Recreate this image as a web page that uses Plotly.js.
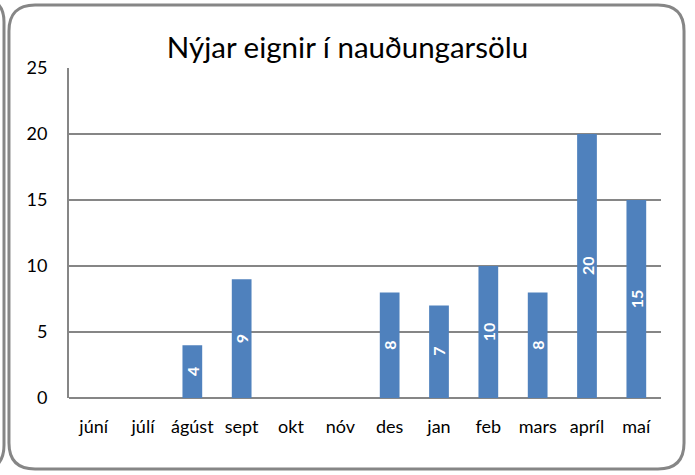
<!DOCTYPE html>
<html>
<head>
<meta charset="utf-8">
<script src="https://cdn.plot.ly/plotly-3.0.1.min.js"></script>
<style>
html,body{margin:0;padding:0;background:#fff;}
#chart{width:695px;height:475px;}
</style>
</head>
<body>
<div id="chart"></div>
<script>
const months = ['júní','júlí','ágúst','sept','okt','nóv','des','jan','feb','mars','apríl','maí'];
const values = [0,0,4,9,0,0,8,7,10,8,20,15];
const barLabels = ['','','4','9','','','8','7','10','8','20','15'];
const yTicks = [0,5,10,15,20,25];

const W = 695, H = 475;
const m = {l:69, r:34, t:68, b:77};
const pw = W - m.l - m.r, ph = H - m.t - m.b;
function px(x){ return ((x - m.l)/pw).toFixed(4); }
function py(y){ return ((H - m.b - y)/ph).toFixed(4); }

function roundRect(x0,y0,x1,y1,r){
  return 'M '+px(x0+r)+' '+py(y0)+
    ' L '+px(x1-r)+' '+py(y0)+
    ' Q '+px(x1)+' '+py(y0)+' '+px(x1)+' '+py(y0+r)+
    ' L '+px(x1)+' '+py(y1-r)+
    ' Q '+px(x1)+' '+py(y1)+' '+px(x1-r)+' '+py(y1)+
    ' L '+px(x0+r)+' '+py(y1)+
    ' Q '+px(x0)+' '+py(y1)+' '+px(x0)+' '+py(y1-r)+
    ' L '+px(x0)+' '+py(y0+r)+
    ' Q '+px(x0)+' '+py(y0)+' '+px(x0+r)+' '+py(y0)+' Z';
}
function leftEdge(){
  const x=4;
  return 'M '+px(-20)+' '+py(-2)+
    ' Q '+px(x)+' '+py(-2)+' '+px(x)+' '+py(22)+
    ' L '+px(x)+' '+py(445)+
    ' Q '+px(x)+' '+py(470)+' '+px(-20)+' '+py(470);
}

const trace = {
  type:'bar',
  x: months,
  y: values,
  marker:{color:'#4F81BD', line:{width:0}},
  hoverinfo:'none'
};

const labelAnnotations = months.map((mo,i)=>({
  x: mo, y: values[i]/2, xref:'x', yref:'y',
  text: barLabels[i], showarrow:false, textangle:-90,
  xanchor:'center', yanchor:'middle',
  font:{family:'Lato, sans-serif', size:16, color:'#ffffff', weight:'bold'}
})).filter(a=>a.text!=='');

const layout = {
  width:W, height:H,
  margin:m,
  paper_bgcolor:'#ffffff',
  plot_bgcolor:'#ffffff',
  showlegend:false,
  bargap:0.6,
  font:{family:'Lato, sans-serif', size:18, color:'#000000'},
  title:{text:'Nýjar eignir í nauðungarsölu', font:{family:'Lato, sans-serif', size:29.5, color:'#000000'}, x:0.5, xanchor:'center', y:1-48/H, yanchor:'middle'},
  xaxis:{
    type:'category',
    showgrid:false, zeroline:false, showline:false,
    ticks:'', tickfont:{size:18, color:'#000000'},
    ticklabelstandoff:16
  },
  yaxis:{
    range:[0,25],
    tickvals:yTicks,
    ticktext:yTicks.map(String),
    showgrid:true, gridcolor:'#868686', gridwidth:1.6,
    zeroline:true, zerolinecolor:'#868686', zerolinewidth:1.6,
    showline:true, linecolor:'#868686', linewidth:2,
    ticks:'', tickfont:{size:18, color:'#000000'},
    ticklabelstandoff:16
  },
  annotations: labelAnnotations,
  shapes:[
    {type:'path', xref:'paper', yref:'paper', path:roundRect(9,5,684,469,26), line:{color:'#868686', width:3}, fillcolor:'rgba(0,0,0,0)', layer:'above'},
    {type:'path', xref:'paper', yref:'paper', path:leftEdge(), line:{color:'#868686', width:3}, fillcolor:'rgba(0,0,0,0)', layer:'above'}
  ]
};

Plotly.newPlot('chart',[trace],layout,{displayModeBar:false, staticPlot:true});
</script>
</body>
</html>
